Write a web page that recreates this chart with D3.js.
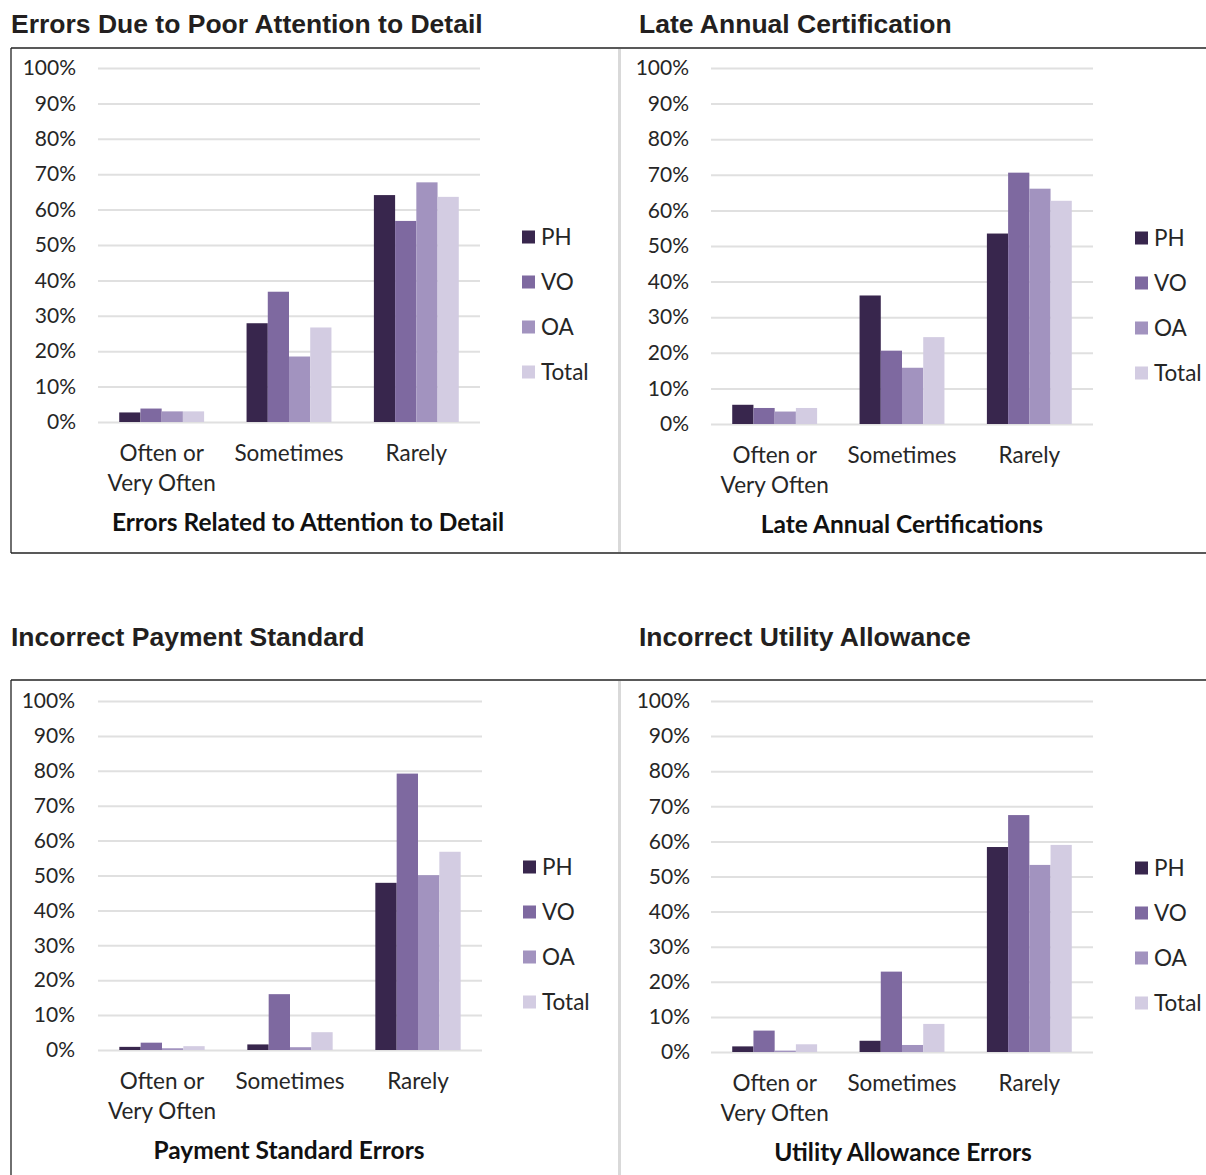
<!DOCTYPE html>
<html>
<head>
<meta charset="utf-8">
<script src="https://cdn.jsdelivr.net/npm/d3@7"></script>
<style>
  body { margin: 0; background: #fff; }
  svg { display: block; }
</style>
</head>
<body>
<div id="chart"></div>
<script>
// Categories, series and tick labels
const categories = [["Often or", "Very Often"], ["Sometimes"], ["Rarely"]];
const seriesNames = ["PH", "VO", "OA", "Total"];
const seriesColors = ["#38264d", "#7e69a0", "#a293bf", "#d3cce2"];
const yTicks = [0, 10, 20, 30, 40, 50, 60, 70, 80, 90, 100];

// Values (%) per series, in category order
const attentionPH = [2.7, 27.9, 64.1];
const attentionVO = [3.8, 36.8, 56.8];
const attentionOA = [3.0, 18.5, 67.7];
const attentionTotal = [3.0, 26.7, 63.6];

const lateCertPH = [5.4, 36.1, 53.5];
const lateCertVO = [4.5, 20.6, 70.6];
const lateCertOA = [3.5, 15.8, 66.1];
const lateCertTotal = [4.5, 24.4, 62.7];

const paymentPH = [0.9, 1.6, 47.9];
const paymentVO = [2.1, 16.0, 79.2];
const paymentOA = [0.5, 0.8, 50.1];
const paymentTotal = [1.1, 5.1, 56.8];

const utilityPH = [1.6, 3.2, 58.4];
const utilityVO = [6.1, 22.9, 67.5];
const utilityOA = [0.4, 2.0, 53.3];
const utilityTotal = [2.2, 8.0, 59.0];

const svg = d3.select("#chart")
    .append("svg")
    .attr("width", 1206)
    .attr("height", 1175);

const labelFont = "Lato, 'Open Sans', sans-serif";
const titleFont = "'Liberation Sans', Arial, sans-serif";

// Frames around each row of panels
function drawFrame(top, bottom) {
    svg.append("line")
        .attr("x1", 11).attr("x2", 1206).attr("y1", top).attr("y2", top)
        .attr("stroke", "#222").attr("stroke-width", 1.3);
    if (bottom < 1175) {
        svg.append("line")
            .attr("x1", 11).attr("x2", 1206).attr("y1", bottom).attr("y2", bottom)
            .attr("stroke", "#222").attr("stroke-width", 1.3);
    }
    svg.append("line")
        .attr("x1", 11).attr("x2", 11).attr("y1", top).attr("y2", bottom)
        .attr("stroke", "#222").attr("stroke-width", 1.3);
    // light separator between the two panels
    svg.append("line")
        .attr("x1", 619.5).attr("x2", 619.5).attr("y1", top + 1).attr("y2", bottom - 1)
        .attr("stroke", "#d9d9d9").attr("stroke-width", 3);
}

drawFrame(48, 553);
drawFrame(680, 1176);

function drawPanel(cfg) {
    const data = cfg.values;

    // Panel title
    svg.append("text")
        .attr("x", cfg.titleX)
        .attr("y", cfg.titleY)
        .style("font-family", titleFont)
        .style("font-size", "26.5px")
        .style("font-weight", "bold")
        .style("fill", "#231f20")
        .text(cfg.title);

    const g = svg.append("g")
        .attr("transform", `translate(${cfg.left},${cfg.top})`);

    const width = cfg.right - cfg.left;
    const height = cfg.bottom - cfg.top;

    const x0 = d3.scaleBand()
        .domain(d3.range(categories.length))
        .range([0, width])
        .paddingInner(1 / 3)
        .paddingOuter(1 / 6);

    const x1 = d3.scaleBand()
        .domain(seriesNames)
        .range([0, x0.bandwidth()]);

    const y = d3.scaleLinear()
        .domain([0, 100])
        .range([height, 0]);

    // Gridlines
    g.append("g")
        .call(d3.axisLeft(y).tickValues(yTicks).tickSize(-width).tickFormat(""))
        .call(a => a.select(".domain").remove())
        .selectAll("line")
        .attr("stroke", "#e0e0e0")
        .attr("stroke-width", 2);

    // Y axis labels
    g.append("g")
        .attr("transform", `translate(${cfg.labelRight - cfg.left},0)`)
        .call(d3.axisLeft(y).tickValues(yTicks).tickSize(0).tickPadding(0).tickFormat(d => d + "%"))
        .call(a => a.select(".domain").remove())
        .selectAll("text")
        .style("font-family", labelFont)
        .style("font-size", "21px")
        .style("fill", "#262626");

    // Bars
    const groups = g.selectAll(".cat")
        .data(categories.map((c, i) => i))
        .enter()
        .append("g")
        .attr("transform", i => `translate(${x0(i)},0)`);

    groups.selectAll("rect")
        .data(i => seriesNames.map((s, k) => ({ series: s, k, value: data[k][i] })))
        .enter()
        .append("rect")
        .attr("x", d => x1(d.series))
        .attr("width", x1.bandwidth())
        .attr("y", d => y(d.value))
        .attr("height", d => height - y(d.value))
        .attr("fill", d => seriesColors[d.k]);

    // Category labels
    const catLabels = g.selectAll(".catlabel")
        .data(categories)
        .enter()
        .append("text")
        .attr("text-anchor", "middle")
        .attr("transform", (c, i) => `translate(${x0(i) + x0.bandwidth() / 2},${height + 39})`)
        .style("font-family", labelFont)
        .style("font-size", "22.5px")
        .style("fill", "#262626");

    catLabels.selectAll("tspan")
        .data(c => c)
        .enter()
        .append("tspan")
        .attr("x", 0)
        .attr("y", (t, j) => j * 30)
        .text(t => t);

    // Axis title
    g.append("text")
        .attr("x", cfg.axisTitleX - cfg.left)
        .attr("y", height + 109)
        .attr("text-anchor", "middle")
        .style("font-family", labelFont)
        .style("font-size", "24.5px")
        .style("font-weight", "bold")
        .style("fill", "#111")
        .text(cfg.axisTitle);

    // Legend
    const legend = svg.append("g")
        .attr("transform", `translate(${cfg.legendX},${cfg.legendY})`);

    seriesNames.forEach((s, k) => {
        const item = legend.append("g")
            .attr("transform", `translate(0,${k * 45})`);
        item.append("rect")
            .attr("x", 0)
            .attr("y", -6.5)
            .attr("width", 13)
            .attr("height", 13)
            .attr("fill", seriesColors[k]);
        item.append("text")
            .attr("x", 19)
            .attr("y", 0)
            .attr("dy", "0.35em")
            .style("font-family", labelFont)
            .style("font-size", "22.5px")
            .style("fill", "#262626")
            .text(s);
    });
}

drawPanel({
    title: "Errors Due to Poor Attention to Detail",
    titleX: 11, titleY: 33,
    left: 98, right: 480, top: 68, bottom: 422, labelRight: 76,
    values: [attentionPH, attentionVO, attentionOA, attentionTotal],
    axisTitle: "Errors Related to Attention to Detail", axisTitleX: 308,
    legendX: 522, legendY: 237
});

drawPanel({
    title: "Late Annual Certification",
    titleX: 639, titleY: 33,
    left: 711, right: 1093, top: 68, bottom: 424, labelRight: 689,
    values: [lateCertPH, lateCertVO, lateCertOA, lateCertTotal],
    axisTitle: "Late Annual Certifications", axisTitleX: 902,
    legendX: 1135, legendY: 238
});

drawPanel({
    title: "Incorrect Payment Standard",
    titleX: 11, titleY: 646,
    left: 98, right: 482, top: 701, bottom: 1050, labelRight: 75,
    values: [paymentPH, paymentVO, paymentOA, paymentTotal],
    axisTitle: "Payment Standard Errors", axisTitleX: 289,
    legendX: 523, legendY: 867
});

drawPanel({
    title: "Incorrect Utility Allowance",
    titleX: 639, titleY: 646,
    left: 711, right: 1093, top: 701, bottom: 1052, labelRight: 690,
    values: [utilityPH, utilityVO, utilityOA, utilityTotal],
    axisTitle: "Utility Allowance Errors", axisTitleX: 903,
    legendX: 1135, legendY: 868
});
</script>
</body>
</html>
